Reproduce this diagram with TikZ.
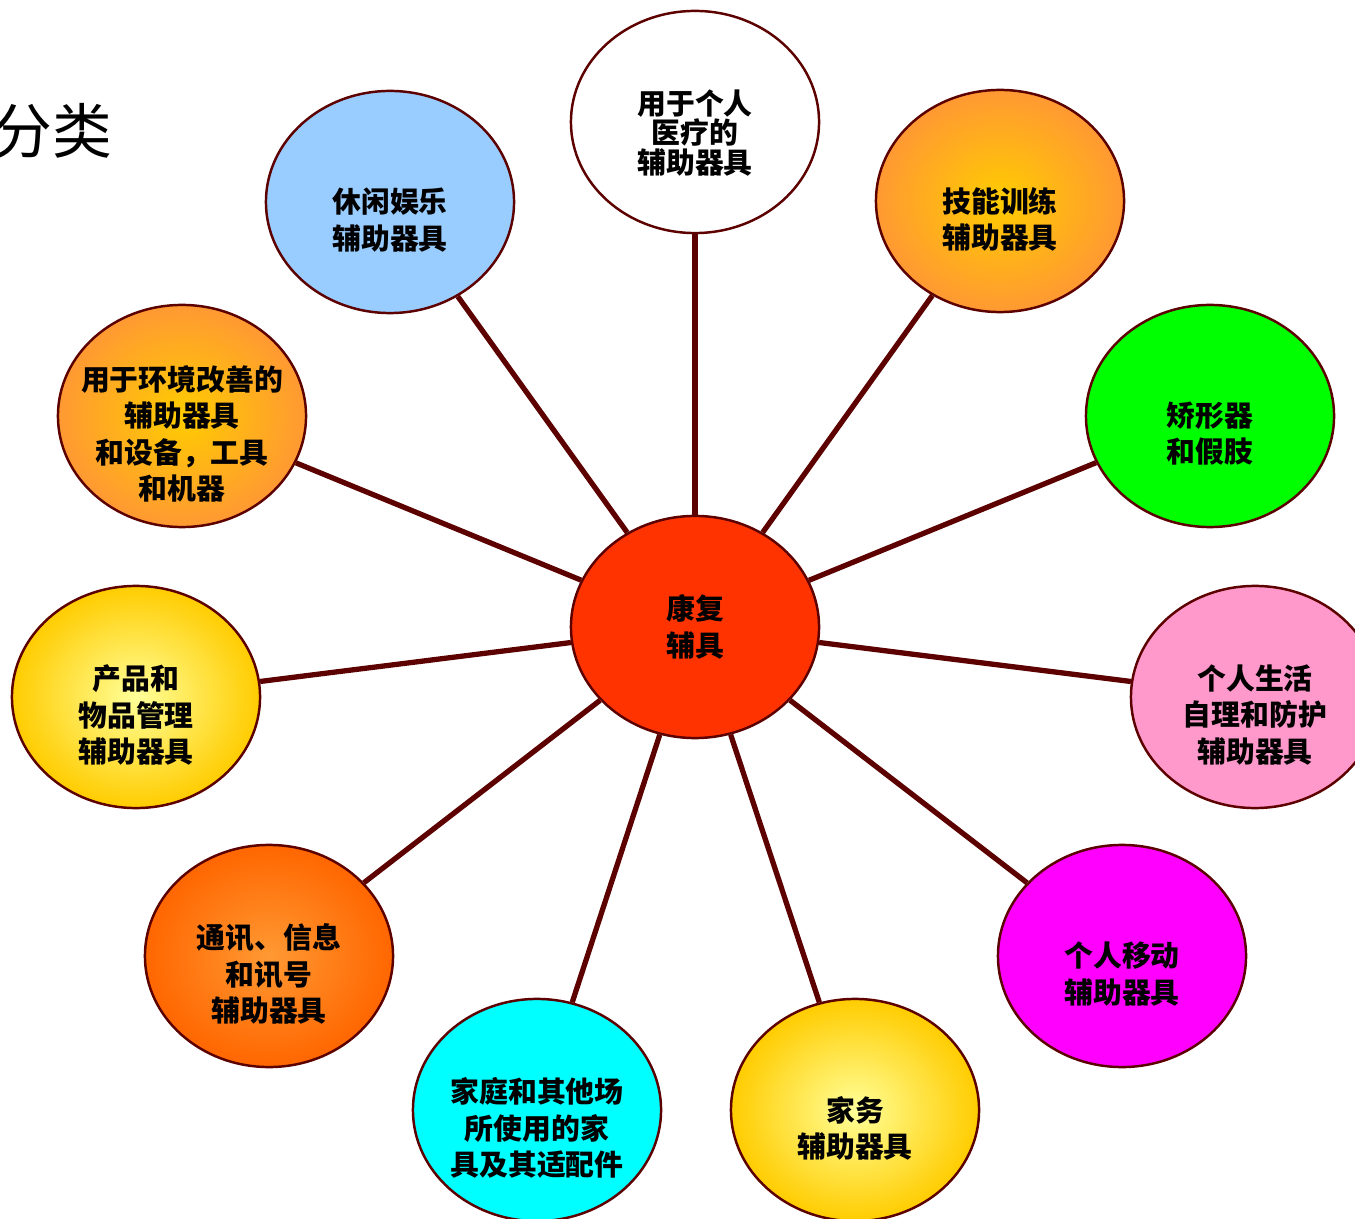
\documentclass[tikz,border=0pt]{standalone}
\usepackage{fontspec}
\newfontfamily\cjk{Noto Sans CJK SC}
\usetikzlibrary{shapes.geometric}

\definecolor{rim}{HTML}{5C0000}
\definecolor{hubred}{HTML}{FF3300}
\definecolor{skyblue}{HTML}{99CCFF}
\definecolor{rosepink}{HTML}{FF99CC}
\definecolor{brightgreen}{HTML}{00FF00}
\definecolor{brightmagenta}{HTML}{FF00FF}
\definecolor{brightcyan}{HTML}{00FFFF}
\definecolor{goldy}{HTML}{FFCC00}
\definecolor{orangy}{HTML}{FF9933}
\definecolor{deeporange}{HTML}{FF6600}
\definecolor{paleyellow}{HTML}{FFFF99}

\tikzset{
  bubble/.style={ellipse,draw=rim,line width=0.7pt,minimum width=2.48cm,
    minimum height=2.22cm,inner sep=0pt},
  words/.style={align=center,inner sep=0pt,
    font=\cjk\bfseries\fontsize{8.2}{10.3}\selectfont},
  spoke/.style={draw=rim,line width=1.5pt},
}

\begin{document}
\begin{tikzpicture}[x=0.01cm,y=-0.01cm]
  \useasboundingbox (0,0) rectangle (1355,1219);

  \node[anchor=east,inner sep=0pt,font=\cjk\fontsize{17}{17}\selectfont] (title) at (113,131) {分类};

  \node[bubble,fill=hubred,label={[name=hub-t,words]center:康复\\辅具}] (hub) at (695,627) {};

  \node[bubble,fill=white,label={[name=med-t,words,yshift=-0.11cm,
    font=\cjk\bfseries\fontsize{8.2}{8.3}\selectfont]center:用于个人\\医疗的\\辅助器具}] (med) at (695,122) {};
  \node[bubble,shade,inner color=goldy,outer color=orangy,
    label={[name=skill-t,words,yshift=-0.18cm]center:技能训练\\辅助器具}] (skill) at (1000,201) {};
  \node[bubble,fill=brightgreen,
    label={[name=ortho-t,words,yshift=-0.18cm]center:矫形器\\和假肢}] (ortho) at (1210,416) {};
  \node[bubble,fill=rosepink,
    label={[name=self-t,words,yshift=-0.18cm]center:个人生活\\自理和防护\\辅助器具}] (self) at (1255,697) {};
  \node[bubble,fill=brightmagenta,
    label={[name=mob-t,words,yshift=-0.18cm]center:个人移动\\辅助器具}] (mob) at (1122,956) {};
  \node[bubble,shade,inner color=paleyellow,outer color=goldy,
    label={[name=house-t,words,yshift=-0.18cm]center:家务\\辅助器具}] (house) at (855,1110) {};
  \node[bubble,fill=brightcyan,
    label={[name=furn-t,words,yshift=-0.18cm]center:家庭和其他场\\所使用的家\\具及其适配件}] (furn) at (537,1110) {};
  \node[bubble,shade,inner color=orangy,outer color=deeporange,
    label={[name=comm-t,words,yshift=-0.18cm]center:通讯、信息\\和讯号\\辅助器具}] (comm) at (269,956) {};
  \node[bubble,shade,inner color=paleyellow,outer color=goldy,
    label={[name=prod-t,words,yshift=-0.18cm]center:产品和\\物品管理\\辅助器具}] (prod) at (136,697) {};
  \node[bubble,shade,inner color=goldy,outer color=orangy,
    label={[name=env-t,words,yshift=-0.18cm]center:用于环境改善的\\辅助器具\\和设备，工具\\和机器}] (env) at (182,416) {};
  \node[bubble,fill=skyblue,
    label={[name=leis-t,words,yshift=-0.18cm]center:休闲娱乐\\辅助器具}] (leis) at (390,202) {};

  \foreach \to in {med,skill,ortho,self,mob,house,furn,comm,prod,env,leis}
    \draw[spoke] (hub) -- (\to);
\end{tikzpicture}
\end{document}
